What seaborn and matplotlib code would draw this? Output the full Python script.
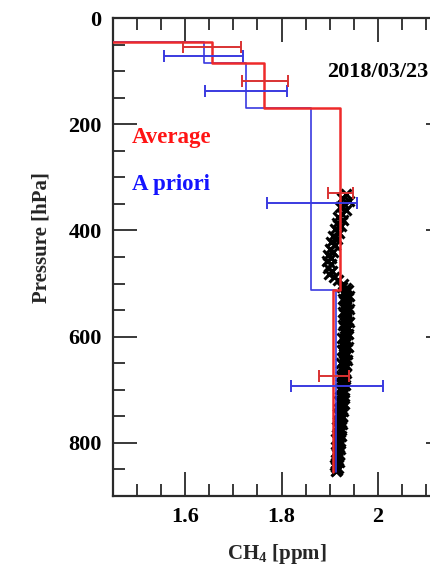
import matplotlib
matplotlib.use("Agg")
import matplotlib.pyplot as plt
import seaborn as sns
import pandas as pd
from matplotlib.ticker import MultipleLocator, FuncFormatter

# ---------------- data ----------------
levels = [0, 44, 85, 170, 512, 855]                 # layer boundaries [hPa]
average = [1.40, 1.655, 1.764, 1.921, 1.908]        # retrieved (Average) [ppm]
apriori = [1.40, 1.638, 1.726, 1.862, 1.913]        # a priori [ppm]

avg_err_p = [53.5, 118, 330, 674]
avg_err_x = [1.656, 1.765, 1.9225, 1.909]
avg_err_e = [0.060, 0.048, 0.026, 0.031]

apr_err_p = [72, 136.5, 349, 693]
apr_err_x = [1.638, 1.726, 1.863, 1.915]
apr_err_e = [0.082, 0.086, 0.094, 0.096]

insitu_p = [332, 338, 344, 350, 356, 362, 368, 374, 380, 386, 392, 398, 404, 410,
            416, 422, 428, 434, 440, 446, 452, 458, 464, 470, 476, 482, 488, 494, 500,
            506, 512, 518, 524, 530, 536, 542, 548, 554, 560, 566, 572, 578, 584, 590,
            596, 602, 608, 614, 620, 626, 632, 638, 644, 650, 656, 662, 668, 674, 680,
            686, 692, 698, 704, 710, 716, 722, 728, 734, 740, 746, 752, 758, 764, 770,
            776, 782, 788, 794, 800, 806, 812, 818, 824, 830, 836, 842, 848, 854,
            509, 515, 521, 527, 533, 539, 545, 551, 557, 563, 569, 575, 581, 587, 593,
            599, 605, 611, 617, 623, 629, 635, 641, 647, 653, 659, 665, 671, 677, 683,
            689, 695, 701, 707, 713, 719, 725, 731, 737, 743, 749, 755, 761, 767, 773,
            779, 785, 791, 797, 803, 809, 815, 821, 827, 833, 839, 845, 851]
insitu_ch4 = [1.935, 1.925, 1.940, 1.930, 1.922, 1.935, 1.926, 1.918, 1.928, 1.916,
              1.924, 1.912, 1.920, 1.908, 1.915, 1.904, 1.912, 1.900, 1.907, 1.896,
              1.904, 1.895, 1.902, 1.896, 1.905, 1.898, 1.910, 1.918, 1.928,
              1.926, 1.938, 1.930, 1.940, 1.927, 1.938, 1.930, 1.940, 1.928, 1.939,
              1.931, 1.940, 1.927, 1.938, 1.931, 1.939, 1.926, 1.937, 1.930, 1.938,
              1.925, 1.936, 1.929, 1.936, 1.924, 1.934, 1.928, 1.935, 1.923, 1.933,
              1.926, 1.932, 1.921, 1.931, 1.925, 1.930, 1.920, 1.929, 1.922, 1.927,
              1.918, 1.926, 1.920, 1.925, 1.916, 1.924, 1.918, 1.923, 1.914, 1.922,
              1.917, 1.921, 1.913, 1.920, 1.915, 1.919, 1.911, 1.918, 1.913,
              1.934, 1.933, 1.935, 1.934, 1.933, 1.935, 1.934, 1.934, 1.933, 1.935,
              1.934, 1.933, 1.934, 1.935, 1.933, 1.932, 1.932, 1.933, 1.931, 1.931,
              1.930, 1.932, 1.930, 1.930, 1.929, 1.931, 1.929, 1.928, 1.928, 1.929,
              1.927, 1.926, 1.926, 1.927, 1.925, 1.925, 1.924, 1.925, 1.923, 1.922,
              1.922, 1.923, 1.921, 1.920, 1.920, 1.921, 1.919, 1.918, 1.918, 1.919,
              1.917, 1.916, 1.916, 1.917, 1.915, 1.914, 1.914, 1.915]

date_text = "2018/03/23"
x_ticks = [1.6, 1.8, 2.0]
y_ticks = [0, 200, 400, 600, 800]

# ---------------- style ----------------
sns.set_theme(style="ticks")
plt.rcParams["font.family"] = ["Liberation Serif", "DejaVu Serif"]
plt.rcParams["font.weight"] = "bold"
plt.rcParams["mathtext.fontset"] = "custom"
plt.rcParams["mathtext.rm"] = "Liberation Serif:bold"
plt.rcParams["mathtext.it"] = "Liberation Serif:bold"
plt.rcParams["mathtext.bf"] = "Liberation Serif:bold"
plt.rcParams["mathtext.default"] = "rm"

RED = "#ee2a2a"
BLUE = "#3a3ae0"
RED_EB = "#d93232"


def step_table(vals, lev):
    xs, ys = [], []
    for i, v in enumerate(vals):
        xs += [v, v]
        ys += [lev[i], lev[i + 1]]
    return pd.DataFrame({"ch4": xs, "p": ys})


fig = plt.figure(figsize=(4.31, 5.67), dpi=100)
ax = fig.add_axes([0.2629, 0.12575, 0.78051, 0.84198])

insitu = pd.DataFrame({"ch4": insitu_ch4, "p": insitu_p})
sns.scatterplot(data=insitu, x="ch4", y="p", marker="x", s=52, color="black",
                linewidth=2.2, ax=ax, zorder=2, legend=False)

sns.lineplot(data=step_table(apriori, levels), x="ch4", y="p", sort=False,
             estimator=None, color=BLUE, linewidth=1.2, ax=ax, zorder=3)
sns.lineplot(data=step_table(average, levels), x="ch4", y="p", sort=False,
             estimator=None, color=RED, linewidth=1.8, ax=ax, zorder=4)

ax.errorbar(apr_err_x, apr_err_p, xerr=apr_err_e, fmt="none", ecolor=BLUE,
            elinewidth=1.4, capsize=4.5, capthick=1.4, zorder=5)
ax.errorbar(avg_err_x, avg_err_p, xerr=avg_err_e, fmt="none", ecolor=RED_EB,
            elinewidth=1.4, capsize=4.5, capthick=1.4, zorder=6)

ax.set_xlim(1.45, 2.15)
ax.set_ylim(900, 0)
ax.set_xticks(x_ticks)
ax.set_yticks(y_ticks)
ax.xaxis.set_minor_locator(MultipleLocator(0.05))
ax.yaxis.set_minor_locator(MultipleLocator(50))
ax.xaxis.set_major_formatter(FuncFormatter(lambda v, _: f"{v:g}"))
ax.set_xlabel("")
ax.set_ylabel("")

ax.tick_params(which="both", direction="in", top=True, right=True,
               color="#2a2a2a", labelsize=16, labelcolor="black")
ax.tick_params(which="major", length=17, width=1.3)
ax.tick_params(which="minor", length=8.5, width=1.3)
ax.tick_params(axis="x", which="major", pad=8)
ax.tick_params(axis="y", which="major", pad=8.5)
for lab in ax.get_xticklabels() + ax.get_yticklabels():
    lab.set_fontweight("bold")
for sp in ax.spines.values():
    sp.set_linewidth(1.6)
    sp.set_color("#2a2a2a")

fig.text(277 / 431, 1 - 559 / 567, r"CH$_{4}$ [ppm]", ha="center", va="baseline",
         fontsize=15, fontweight="bold")
fig.text(42 / 431, 1 - 238 / 567, "Pressure [hPa]", rotation=90, ha="center",
         va="center", fontsize=15, fontweight="bold")
fig.text(326.7 / 431, 1 - 71.7 / 567, date_text, ha="left", va="center",
         fontsize=16, fontweight="bold", color="black")
fig.text(131.7 / 431, 1 - 138 / 567, "Average", ha="left", va="center",
         fontsize=16.5, fontweight="bold", color="#ff1414")
fig.text(131.7 / 431, 1 - 185 / 567, "A priori", ha="left", va="center",
         fontsize=16.5, fontweight="bold", color="#1414ff")

fig.savefig("out.png", dpi=100)
